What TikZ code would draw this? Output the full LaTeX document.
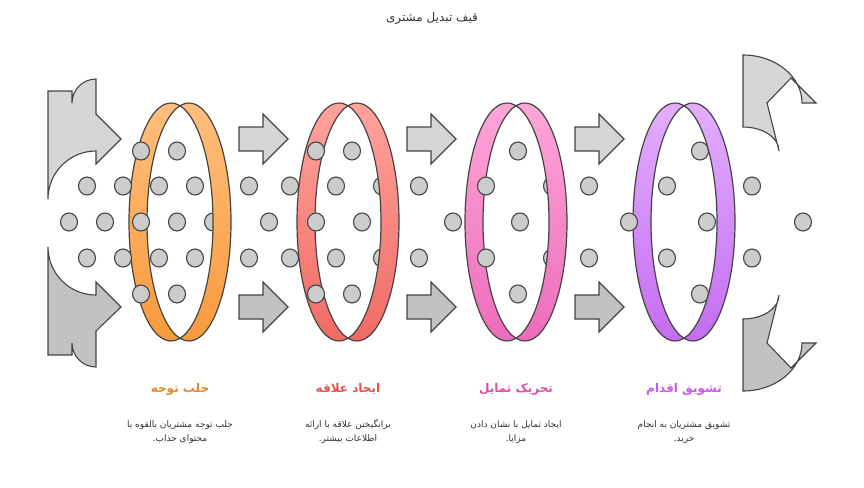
\documentclass[tikz,border=0pt]{standalone}
\usepackage{fontspec}
\newfontfamily\arabicfont[Script=Arabic]{DejaVu Sans}
\TeXXeTstate=1
\definecolor{dotgray}{HTML}{CCCCCC}
\definecolor{edge}{HTML}{444444}
\definecolor{txtgray}{HTML}{333333}
\definecolor{ringAtop}{HTML}{FFBE7D}\definecolor{ringAbot}{HTML}{F99A3C}
\definecolor{ringBtop}{HTML}{FFA39C}\definecolor{ringBbot}{HTML}{F06B64}
\definecolor{ringCtop}{HTML}{FFA6D8}\definecolor{ringCbot}{HTML}{EC6CBB}
\definecolor{ringDtop}{HTML}{E3AEFF}\definecolor{ringDbot}{HTML}{C56CF0}
\definecolor{headA}{HTML}{E8862A}
\definecolor{headB}{HTML}{E5534B}
\definecolor{headC}{HTML}{E04CA8}
\definecolor{headD}{HTML}{C55CE8}
\tikzset{
  dot/.style={fill=dotgray, draw=edge, line width=1.1pt},
  arrowbox/.style={draw=edge, line width=1.1pt},
  heading/.style={font=\arabicfont\bfseries\fontsize{12}{14}\selectfont},
  desc/.style={font=\arabicfont\fontsize{9}{14}\selectfont, text=txtgray, align=center}
}
\begin{document}
\begin{tikzpicture}[x=1pt, y=-1pt]
  \useasboundingbox[fill=white] (0,0) rectangle (864,487);
  \node[font=\arabicfont\fontsize{12}{14}\selectfont, text=txtgray] (title) at (432,18) {\beginR قیف تبدیل مشتری\endR};

  % curved arrows in and out
  \draw[arrowbox, fill=black!16] (48,91) -- (72,91) -- (72,103) arc[start angle=180, end angle=270, radius=24]
    -- (96,114) -- (121,139) -- (96,164) -- (96,151) arc[start angle=270, end angle=180, radius=48] -- cycle;
  \draw[arrowbox, fill=black!24] (48,355) -- (72,355) -- (72,343) arc[start angle=180, end angle=90, radius=24]
    -- (96,331) -- (121,307) -- (96,282) -- (96,295) arc[start angle=90, end angle=180, radius=48] -- cycle;
  \draw[arrowbox, fill=black!16] (743,127) arc[start angle=270, end angle=360, x radius=36, y radius=24]
    -- (767,103) -- (791,78) -- (816,103) -- (802,103) arc[start angle=360, end angle=270, x radius=59, y radius=48] -- cycle;
  \draw[arrowbox, fill=black!24] (743,319) arc[start angle=90, end angle=0, x radius=36, y radius=24]
    -- (767,343) -- (791,368) -- (816,343) -- (802,343) arc[start angle=0, end angle=90, x radius=59, y radius=48] -- cycle;

  % straight arrows between rings
  \foreach \x in {239,407,575} {
    \draw[arrowbox, fill=black!16] (\x,127) -- ++(24,0) -- ++(0,-13) -- ++(25,25) -- ++(-25,25) -- ++(0,-13) -- ++(-24,0) -- cycle;
    \draw[arrowbox, fill=black!24] (\x,295) -- ++(24,0) -- ++(0,-13) -- ++(25,25) -- ++(-25,25) -- ++(0,-13) -- ++(-24,0) -- cycle;
  }

  % back half of the rings
  \foreach \c/\r in {180/A, 348/B, 516/C, 684/D} {
    \begin{scope}
      \clip (\c-60,90) rectangle (\c,360);
      \shade[even odd rule, top color=ring\r top, bottom color=ring\r bot]
        (\c-9,222) ellipse[x radius=42, y radius=119] (\c+9,222) ellipse[x radius=42, y radius=119];
      \draw[edge, line width=1.2pt] (\c-9,222) ellipse[x radius=42, y radius=119] (\c+9,222) ellipse[x radius=42, y radius=119];
    \end{scope}
  }

  % dots
  \foreach \x in {141,177,316,352,518,700} {
    \draw[dot] (\x,151) ellipse[x radius=8.5, y radius=9];
    \draw[dot] (\x,294) ellipse[x radius=8.5, y radius=9];
  }
  \foreach \x in {87,123,159,195,249,290,336,382,419,486,552,589,667,752} {
    \draw[dot] (\x,186) ellipse[x radius=8.5, y radius=9];
    \draw[dot] (\x,258) ellipse[x radius=8.5, y radius=9];
  }
  \foreach \x in {69,105,141,177,213,269,316,362,453,520,629,707,803} {
    \draw[dot] (\x,222) ellipse[x radius=8.5, y radius=9];
  }

  % front half of the rings
  \foreach \c/\r in {180/A, 348/B, 516/C, 684/D} {
    \begin{scope}
      \clip (\c,90) rectangle (\c+60,360);
      \shade[even odd rule, top color=ring\r top, bottom color=ring\r bot]
        (\c-9,222) ellipse[x radius=42, y radius=119] (\c+9,222) ellipse[x radius=42, y radius=119];
      \draw[edge, line width=1.2pt] (\c-9,222) ellipse[x radius=42, y radius=119] (\c+9,222) ellipse[x radius=42, y radius=119];
    \end{scope}
  }

  % labels
  \node[heading, text=headA] (h1) at (180,389) {\beginR جلب توجه\endR};
  \node[heading, text=headB] (h2) at (348,389) {\beginR ایجاد علاقه\endR};
  \node[heading, text=headC] (h3) at (516,389) {\beginR تحریک تمایل\endR};
  \node[heading, text=headD] (h4) at (684,389) {\beginR تشویق اقدام\endR};

  \node[desc] (d1) at (180,432) {\beginR جلب توجه مشتریان بالقوه با\endR\\\beginR محتوای جذاب.\endR};
  \node[desc] (d2) at (348,432) {\beginR برانگیختن علاقه با ارائه\endR\\\beginR اطلاعات بیشتر.\endR};
  \node[desc] (d3) at (516,432) {\beginR ایجاد تمایل با نشان دادن\endR\\\beginR مزایا.\endR};
  \node[desc] (d4) at (684,432) {\beginR تشویق مشتریان به انجام\endR\\\beginR خرید.\endR};
\end{tikzpicture}
\end{document}
